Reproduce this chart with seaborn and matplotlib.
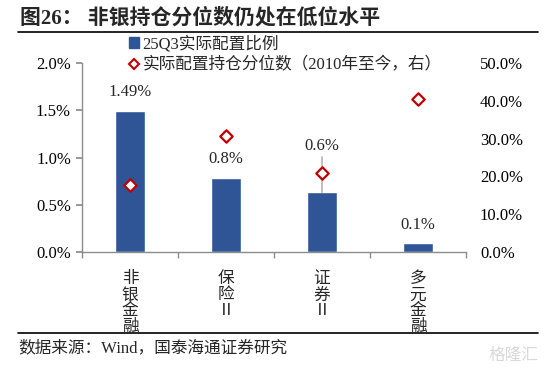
import matplotlib
matplotlib.use("Agg")
import matplotlib.pyplot as plt
from matplotlib.lines import Line2D
from matplotlib.patches import Patch
from matplotlib.ticker import FuncFormatter, MultipleLocator
import pandas as pd
import seaborn as sns

# data (percent units)
categories = ["非\n银\n金\n融", "保\n险\nⅡ", "证\n券\nⅡ", "多\n元\n金\n融"]
alloc_ratio = [1.49, 0.78, 0.63, 0.09]
alloc_labels = ["1.49%", "0.8%", "0.6%", "0.1%"]
percentile = [17.7, 30.7, 21.0, 40.4]

bar_color = "#2F5597"
red = "#C00000"

sns.set_theme(style="white")
plt.rcParams['font.family'] = ['Liberation Serif', 'Noto Sans CJK SC']
plt.rcParams['axes.unicode_minus'] = False

df = pd.DataFrame({"cat": categories, "ratio": alloc_ratio, "pct": percentile})

fig = plt.figure(figsize=(5.48, 3.78), dpi=100)
ax = fig.add_axes([82 / 548, 1 - 252 / 378, 384 / 548, 189 / 378])

sns.barplot(data=df, x="cat", y="ratio", color=bar_color, saturation=1,
            width=0.31, ax=ax)
ax.set_ylim(0, 2.0)
ax.yaxis.set_major_locator(MultipleLocator(0.5))
ax.yaxis.set_major_formatter(FuncFormatter(lambda v, p: f"{v:.1f}%"))
ax.set_xlim(-0.5, 3.5)
ax.set_xlabel("")
ax.set_ylabel("")

for s in ["top", "right"]:
    ax.spines[s].set_visible(False)
for s in ["left", "bottom"]:
    ax.spines[s].set_color("#8C8C8C")
    ax.spines[s].set_linewidth(1)

ax.tick_params(axis="y", which="both", left=True, length=4, color="#8C8C8C",
               labelsize=12, pad=4, labelcolor="black")
ax.set_xticks(range(len(categories)))
ax.set_xticklabels(categories, fontsize=12, linespacing=1.0, va="top")
ax.tick_params(axis="x", bottom=False, pad=8)
# category boundary ticks
ax.set_xticks([-0.5, 0.5, 1.5, 2.5, 3.5], minor=True)
ax.tick_params(axis="x", which="minor", bottom=True, length=4, color="#8C8C8C")

# value labels
offsets = [14, 14, 28, 13]
for i, (v, lab) in enumerate(zip(alloc_ratio, alloc_labels)):
    if i == 2:
        ax.annotate(lab, xy=(i, v), xytext=(0, offsets[i]), textcoords="offset points",
                    ha="center", va="bottom", fontsize=12,
                    arrowprops=dict(arrowstyle="-", color="#A6A6A6", lw=1,
                                    shrinkA=0, shrinkB=0))
    else:
        ax.annotate(lab, xy=(i, v), xytext=(0, offsets[i]), textcoords="offset points",
                    ha="center", va="center", fontsize=12)

ax2 = ax.twinx()
sns.scatterplot(x=list(range(len(categories))), y=percentile, ax=ax2, marker="D",
                s=40, facecolor="white", edgecolor=red, linewidth=1.6, zorder=5)
ax2.set_ylim(0, 50)
ax2.set_xlim(-0.5, 3.5)
ax2.yaxis.set_major_locator(MultipleLocator(10))
ax2.yaxis.set_major_formatter(FuncFormatter(lambda v, p: f"{v:.1f}%"))
ax2.tick_params(axis="y", right=False, labelsize=12, pad=4, labelcolor="black")
for s in ["top", "right", "left", "bottom"]:
    ax2.spines[s].set_visible(False)

# legend
handles = [Patch(facecolor=bar_color, edgecolor=bar_color),
           Line2D([], [], marker="D", linestyle="none", markersize=5,
                  markerfacecolor="white", markeredgecolor=red, markeredgewidth=1.5)]
fig.legend(handles, ["25Q3实际配置比例", "实际配置持仓分位数（2010年至今，右）"],
           loc="upper left", bbox_to_anchor=(129 / 548, 1 - 36 / 378), frameon=False,
           fontsize=12, handlelength=0.6, handleheight=0.6, handletextpad=0.2,
           labelspacing=0.3, borderaxespad=0, borderpad=0)

# title, rules, source
fig.text(20 / 548, 1 - 18 / 378, "图26： 非银持仓分位数仍处在低位水平", fontsize=15,
         fontweight="bold", va="center", ha="left")
fig.add_artist(Line2D([18 / 548, 538 / 548], [1 - 32 / 378, 1 - 32 / 378],
                      color="black", lw=1.2))
fig.add_artist(Line2D([18 / 548, 538 / 548], [1 - 333 / 378, 1 - 333 / 378],
                      color="black", lw=1.2))
fig.text(18 / 548, 1 - 348 / 378, "数据来源：Wind，国泰海通证券研究", fontsize=12,
         va="center", ha="left")
fig.text(538 / 548, 1 - 356 / 378, "格隆汇", fontsize=12, color="#D9D9D9",
         va="center", ha="right")

fig.savefig("out.png", dpi=100)
